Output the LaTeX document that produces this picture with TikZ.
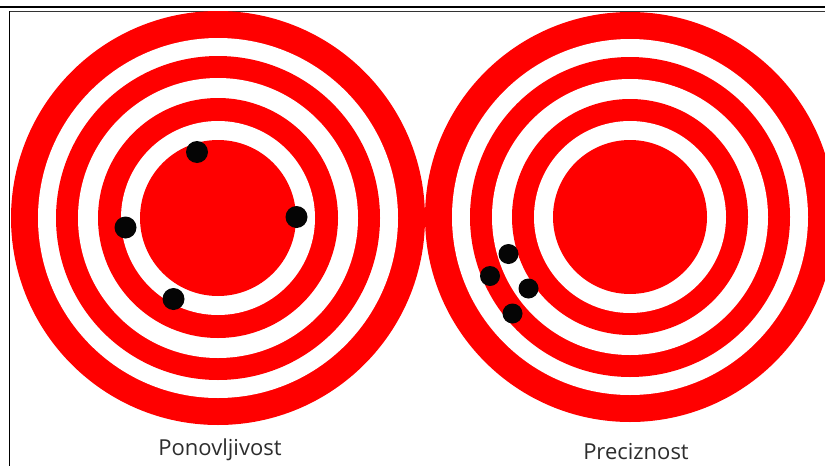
\documentclass[tikz,border=0pt]{standalone}
\usepackage{fontspec}
\setmainfont{Open Sans}
\definecolor{tred}{RGB}{255,0,0}
\definecolor{tdot}{RGB}{5,5,5}
\definecolor{ttext}{RGB}{45,45,45}
\begin{document}
\begin{tikzpicture}[x=1pt,y=-1pt,
  redring/.style={fill=tred},
  whitering/.style={fill=white},
  shot/.style={fill=tdot},
  lbl/.style={font=\fontsize{22}{24}\selectfont, text=ttext, inner sep=0pt, anchor=base}]
\useasboundingbox (0,0) rectangle (825,466);
\fill[white] (0,0) rectangle (825,466);
% frame
\draw[line width=2.5pt] (0,7.2) -- (825,7.2);
\draw[line width=1.3pt, black!80] (9.5,11.3) -- (825,11.3);
\draw[line width=1.3pt] (9.5,11.3) -- (9.5,466);
% left target
\coordinate (L) at (218,218);
\foreach \r/\s in {207/redring,180/whitering,162/redring,140/whitering,120/redring,97/whitering,78/redring}
  \fill[\s] (L) circle (\r);
% right target
\coordinate (R) at (630,217);
\foreach \r/\s in {205/redring,178/whitering,160/redring,138/whitering,118/redring,96/whitering,77/redring}
  \fill[\s] (R) circle (\r);
% shots
\fill[shot] (197,152) circle (11);
\fill[shot] (125.5,227.5) circle (11);
\fill[shot] (296.5,217) circle (11);
\fill[shot] (173.5,299) circle (11);
\fill[shot] (508.5,254) circle (10);
\fill[shot] (490,276) circle (10);
\fill[shot] (528.5,288.5) circle (10);
\fill[shot] (512.5,313.5) circle (10);
% labels
\node[lbl] (p1) at (220,455) {Ponovljivost};
\node[lbl] (p2) at (636,459) {Preciznost};
\end{tikzpicture}
\end{document}
